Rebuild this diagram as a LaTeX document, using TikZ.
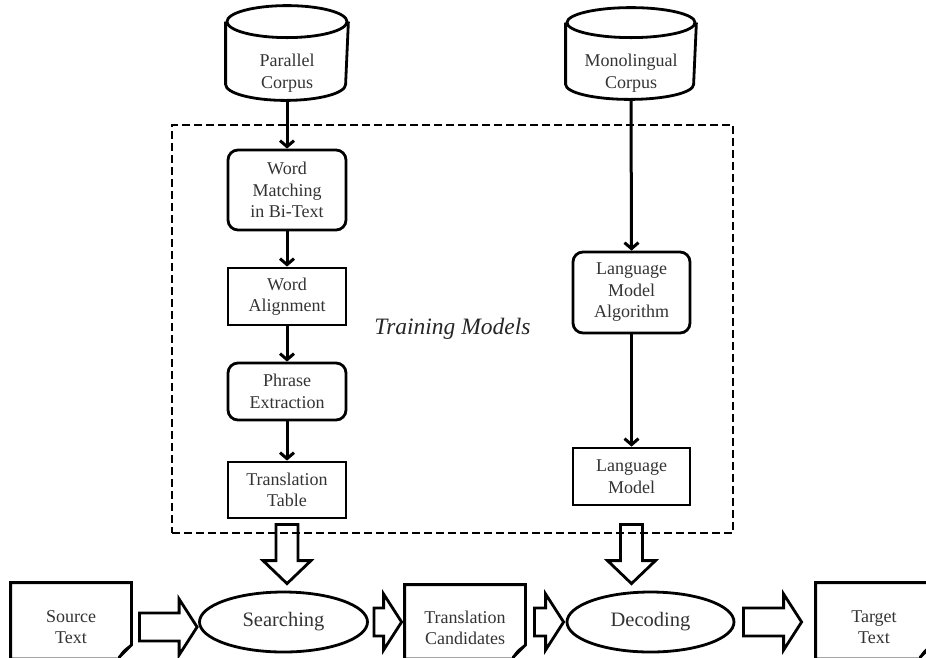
\documentclass[tikz,border=0pt]{standalone}
\usepackage{fontspec}
\setmainfont{Liberation Serif}
\usetikzlibrary{arrows.meta,shapes.geometric,calc}
\newcommand\mycyl[3]{%
  \draw ([yshift=-#3]#1.north west) -- ([yshift=#3]#1.south west)
    arc[start angle=180,end angle=360,x radius=#2,y radius=#3]
    -- ([yshift=-#3]#1.north east);
  \draw ([yshift=-#3]#1.north) ellipse[x radius=#2,y radius=#3];}
\newcommand\mydoc[1]{%
  \draw (#1.north west |- 0,659) -- (#1.north west) -- (#1.north east)
    -- (#1.north east |- 0,645) -- ($(#1.north east |- 0,645)+(-12,12)$)
    -- ($(#1.north east |- 0,645)+(-12,14)$) -- (#1.north west |- 0,659) -- cycle;
  \draw[line width=1.8pt] ($(#1.north east |- 0,645)+(-12,12)$)
    .. controls ($(#1.north east |- 0,645)+(-9,6)$) and ($(#1.north east |- 0,645)+(-6,4)$)
    .. (#1.north east |- 0,645);}
\begin{document}
\begin{tikzpicture}[x=1pt,y=-1pt,line width=2.8pt,
  txt/.style={text=black!80,font=\fontsize{18}{21.5}\selectfont,align=center,inner sep=0pt},
  proc/.style={txt,draw=black,minimum width=118pt},
  rproc/.style={proc,rounded corners=10pt},
  oval/.style={ellipse,draw=black,text=black!80,font=\fontsize{20.5}{24}\selectfont,inner sep=0pt},
  holder/.style={inner sep=0pt,draw=none},
  flow/.style={-{Straight Barb[length=6pt,width=14pt]},line width=3pt},
  hdown/.style={to path={let \p1=(\tikztostart),\p2=(\tikztotarget) in
    (\x1-11pt,\y1) -- (\x1-11pt,\y2+23pt) -- (\x1-24pt,\y2+23pt) -- (\x1,\y2)
    -- (\x1+24pt,\y2+23pt) -- (\x1+11pt,\y2+23pt) -- (\x1+11pt,\y1) -- cycle}},
  hright/.style={to path={let \p1=(\tikztostart),\p2=(\tikztotarget) in
    (\x1,\y1+14pt) -- (\x2-18pt,\y1+14pt) -- (\x2-18pt,\y1+28pt) -- (\x2,\y1)
    -- (\x2-18pt,\y1-28pt) -- (\x2-18pt,\y1-14pt) -- (\x1,\y1-14pt) -- cycle}},
]
\useasboundingbox (0,0) rectangle (926,657);
\clip (0,0) rectangle (926,657);

% cylinders
\node[holder,minimum width=120pt,minimum height=92pt] (pc) at (287,53) {};
\node[holder,minimum width=128pt,minimum height=89pt] (mc) at (631,53.5) {};
\mycyl{pc}{60pt}{16pt}
\mycyl{mc}{64pt}{15pt}
\node[txt] (pct) at (287,73) {Parallel\\Corpus};
\node[txt] (mct) at (631,73) {Monolingual\\Corpus};

% training region
\node[draw=black,dash pattern=on 8pt off 4pt,line width=2.8pt,minimum width=561pt,minimum height=408pt,
  text=black!85,font=\itshape\fontsize{23.5}{28}\selectfont] (tm) at (452.5,329) {Training Models};

% process boxes
\node[rproc,minimum height=80pt] (wm) at (287,190) {Word\\Matching\\in Bi-Text};
\node[proc,minimum height=57pt] (wa) at (287,296.5) {Word\\Alignment};
\node[rproc,minimum height=57pt] (pe) at (287,391.5) {Phrase\\Extraction};
\node[proc,minimum height=56pt] (tt) at (287,490) {Translation\\Table};
\node[rproc,minimum width=117pt,minimum height=81pt] (lma) at (631.5,292.5) {Language\\Model\\Algorithm};
\node[proc,minimum width=117pt,minimum height=57pt] (lm) at (631.5,476.5) {Language\\Model};

% bottom row
\node[oval,minimum width=168pt,minimum height=60pt] (srch) at (283.5,622) {Searching};
\node[oval,minimum width=167pt,minimum height=60pt] (dec) at (650.5,622) {Decoding};
\node[txt,minimum width=118pt,minimum height=86pt] (src) at (71,627) {Source\\Text};
\node[txt,minimum width=118pt,minimum height=84pt] (tc) at (465,628) {Translation\\Candidates};
\node[txt,minimum width=114pt,minimum height=86pt] (tgt) at (874,627) {Target\\Text};
\mydoc{src}
\mydoc{tc}
\mydoc{tgt}

% connectors
\draw[flow] (pc.south) -- (wm.north);
\draw[flow] (wm.south) -- (wa.north);
\draw[flow] (wa.south) -- (pe.north);
\draw[flow] (pe.south) -- (tt.north);
\draw[flow] (mc.south) -- (lma.north);
\draw[flow] (lma.south) -- (lm.north);

\draw[hdown] ([yshift=10pt]tm.south -| tt.south) to ([yshift=7pt]srch.north -| tt.south);
\draw[hdown] ([yshift=10pt]tm.south -| lm.south) to ([yshift=7pt]dec.north -| lm.south);
\draw[hright] ([xshift=8pt]src.east) to ([xshift=-1pt]srch.west);
\draw[hright] ([xshift=5pt]srch.east) to ([xshift=-3pt]tc.west);
\draw[hright] ([xshift=9pt]tc.east |- dec.west) to ([xshift=-2pt]dec.west);
\draw[hright] ([xshift=8pt]dec.east) to ([xshift=-14pt]tgt.west |- dec.east);
\end{tikzpicture}
\end{document}
